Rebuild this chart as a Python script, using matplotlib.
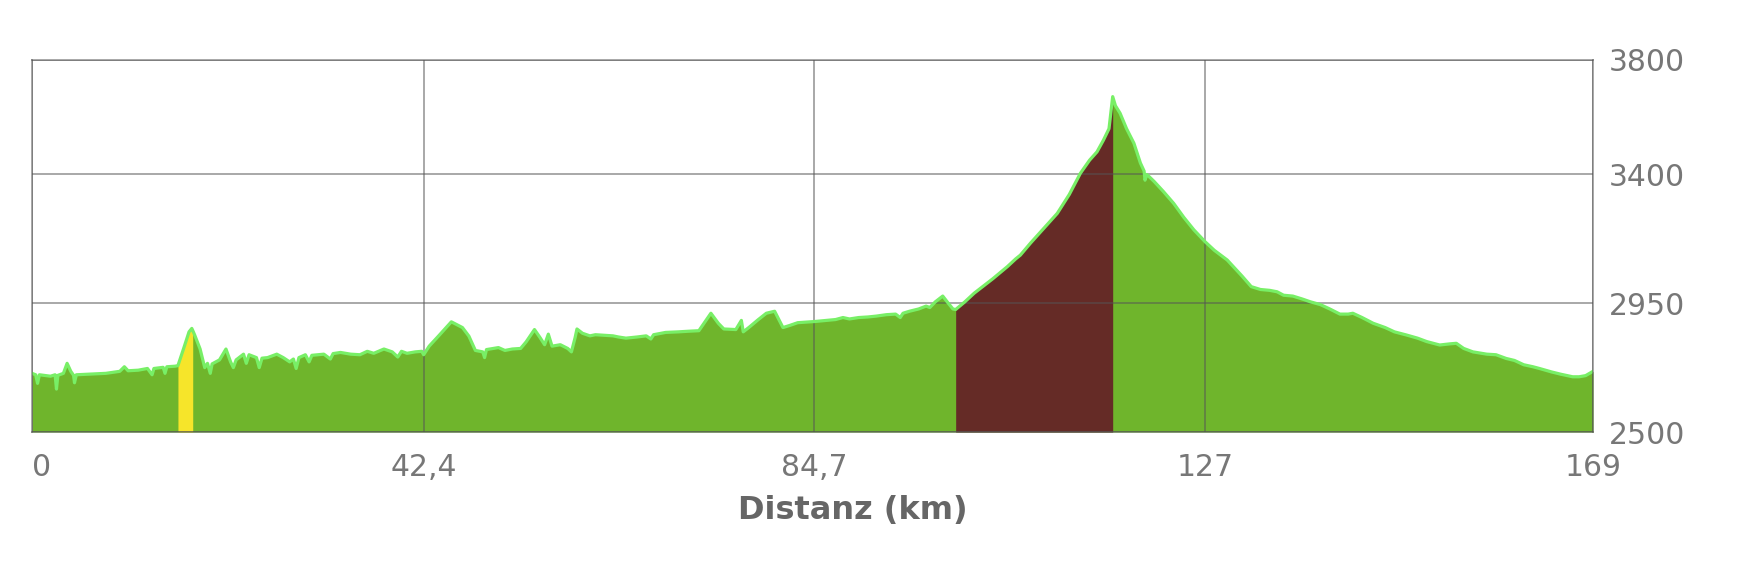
import matplotlib
matplotlib.use("Agg")
import matplotlib.pyplot as plt
import numpy as np

# ---- data ----
distance_km = [
    0.0, 0.4, 0.6, 0.8, 2.0, 2.5, 2.65, 2.8, 3.4, 3.8, 4.2, 4.5, 4.6, 4.8, 6.0, 8.0,
    9.5, 10.0, 10.4, 11.5, 12.5, 13.0, 13.2, 14.2, 14.4, 14.6, 15.5, 15.8, 16.5, 17.0,
    17.3, 17.4, 17.6, 18.2, 18.7, 19.0, 19.3, 19.5, 20.3, 21.0, 21.5, 21.8, 22.1, 22.9, 23.2,
    23.5, 24.3, 24.6, 24.9, 25.5, 26.5, 27.2, 27.9, 28.3, 28.6, 28.9, 29.6, 30.0, 30.3,
    31.6, 32.3, 32.6, 33.4, 34.5, 35.5, 36.3, 37.0, 38.1, 39.0, 39.6, 40.0, 40.6, 41.5,
    42.2, 42.4, 43.0, 44.0, 45.4, 46.6, 47.3, 48.0, 48.8, 49.0, 49.2, 50.5, 51.2, 52.0,
    52.9, 53.5, 54.4, 55.0, 55.5, 55.9, 56.3, 57.2, 58.0, 58.4, 58.8, 59.0, 59.6, 60.4,
    61.0, 62.0, 62.9, 63.5, 64.3, 65.5, 66.5, 67.0, 67.3, 68.6, 70.0, 71.0, 72.2, 73.5,
    74.3, 74.9, 76.2, 76.8, 77.0, 77.6, 78.6, 79.5, 80.4, 81.3, 82.0, 82.9, 84.7, 86.0,
    87.0, 87.8, 88.5, 89.5, 90.5, 91.4, 92.5, 93.5, 94.0, 94.3, 95.0, 96.0, 96.8, 97.2,
    97.8, 98.6, 99.2, 99.7, 100.0, 101.0, 102.0, 103.0, 104.0, 105.6, 106.5, 107.0, 108.1,
    109.5, 111.0, 112.3, 113.5, 114.5, 115.3, 116.0, 116.6, 117.0, 117.3, 117.8, 118.5,
    119.3, 120.0, 120.4, 120.5, 120.7, 121.5, 122.5, 123.6, 124.7, 125.8, 127.0, 128.0, 129.4,
    130.0, 131.0, 132.0, 133.0, 134.0, 134.8, 135.5, 136.5, 137.5, 138.4, 139.5, 140.5,
    141.6, 142.5, 143.0, 144.0, 145.2, 146.5, 147.5, 148.8, 150.0, 151.0, 152.4, 153.5,
    154.2, 155.0, 156.0, 157.5, 158.5, 159.6, 160.5, 161.5, 162.5, 163.2, 164.5, 165.5,
    166.8, 167.5, 168.2, 169.0,
]
elevation_m = [
    2705, 2700, 2670, 2700, 2695, 2700, 2650, 2698, 2705, 2740, 2712, 2698, 2672, 2700, 2702, 2705,
    2712, 2728, 2714, 2716, 2722, 2700, 2722, 2726, 2705, 2728, 2730, 2732, 2800, 2850,
    2862, 2855, 2840, 2790, 2725, 2740, 2705, 2738, 2752, 2790, 2745, 2725, 2752, 2772, 2740,
    2770, 2760, 2725, 2758, 2760, 2772, 2760, 2745, 2755, 2722, 2760, 2770, 2745, 2768,
    2772, 2755, 2774, 2778, 2772, 2770, 2782, 2775, 2790, 2780, 2762, 2782, 2775, 2780,
    2782, 2770, 2800, 2835, 2885, 2865, 2835, 2785, 2780, 2760, 2788, 2795, 2785, 2790,
    2792, 2815, 2858, 2830, 2805, 2842, 2800, 2805, 2792, 2780, 2830, 2860, 2845, 2836,
    2840, 2838, 2836, 2832, 2828, 2832, 2836, 2825, 2840, 2848, 2850, 2852, 2854, 2915,
    2880, 2860, 2858, 2890, 2850, 2865, 2892, 2915, 2922, 2865, 2872, 2882, 2886, 2890,
    2893, 2900, 2895, 2900, 2902, 2905, 2910, 2912, 2900, 2915, 2922, 2930, 2940, 2935,
    2955, 2975, 2950, 2930, 2928, 2955, 2985, 3010, 3035, 3078, 3105, 3118, 3160,
    3210, 3264, 3330, 3404, 3450, 3479, 3520, 3560, 3672, 3640, 3614, 3560,
    3509, 3440, 3412, 3380, 3400, 3375, 3340, 3299, 3250, 3206, 3165, 3135, 3101,
    3080, 3045, 3008, 2998, 2995, 2990, 2978, 2975, 2965, 2955, 2945, 2930,
    2912, 2912, 2915, 2900, 2880, 2865, 2850, 2839, 2828, 2816, 2804, 2808,
    2810, 2792, 2780, 2772, 2770, 2757, 2750, 2735, 2728, 2722, 2710, 2702,
    2693, 2693, 2697, 2712,
]
yellow_segment = (15.8, 17.4)
brown_segment = (100.0, 117.0)
x_ticks = [0, 42.4, 84.7, 127, 169]
x_tick_labels = ["0", "42,4", "84,7", "127", "169"]
y_ticks = [2500, 2950, 3400, 3800]
y_tick_labels = ["2500", "2950", "3400", "3800"]
x_label = "Distanz (km)"

# ---- styling ----
GREEN = "#6fb52c"
LIME = "#78ef66"
BROWN = "#652b26"
YELLOW = "#f6e52a"
TICK_COLOR = "#777777"

W, H = 1763, 576
fig = plt.figure(figsize=(W / 100, H / 100), dpi=100)
ax = fig.add_axes([32 / W, (H - 432) / H, (1593 - 32) / W, (432 - 60) / H])

x = np.array(distance_km)
y = np.array(elevation_m)
base = y_ticks[0]

ax.fill_between(x, base, y, color=GREEN, linewidth=0, zorder=1)
ym = (x >= yellow_segment[0]) & (x <= yellow_segment[1])
ax.fill_between(x, base, y, where=ym, interpolate=False, color=YELLOW, linewidth=0, zorder=2)
bm = (x >= brown_segment[0]) & (x <= brown_segment[1])
ax.fill_between(x, base, y, where=bm, interpolate=False, color=BROWN, linewidth=0, zorder=2)
ax.plot(x, y, color=LIME, linewidth=2.3, solid_joinstyle="round", zorder=3)

ax.set_xlim(0, 169)
ax.set_ylim(2500, 3800)

ax.set_xticks(x_ticks)
ax.set_xticklabels(x_tick_labels)
ax.set_yticks(y_ticks)
ax.set_yticklabels(y_tick_labels)
ax.yaxis.tick_right()

ax.grid(True, color="#555555", alpha=0.55, linewidth=1.3, zorder=4)
ax.set_axisbelow(False)
for s in ax.spines.values():
    s.set_color("#555555")
    s.set_alpha(0.55)
    s.set_linewidth(1.3)
    s.set_zorder(5)

ax.tick_params(axis="both", length=0, colors=TICK_COLOR, labelsize=21.5)
ax.tick_params(axis="x", pad=15)
ax.tick_params(axis="y", pad=11.5)
for lbl in ax.get_xticklabels() + ax.get_yticklabels():
    lbl.set_family("DejaVu Sans")
    lbl.set_color(TICK_COLOR)
ax.get_xticklabels()[0].set_horizontalalignment("left")

fig.text(852.5 / W, 1 - 511 / H, x_label, ha="center", va="center",
         fontsize=23, fontweight="bold", color="#666666", family="DejaVu Sans")

fig.savefig("out.png", dpi=100, facecolor="white")
